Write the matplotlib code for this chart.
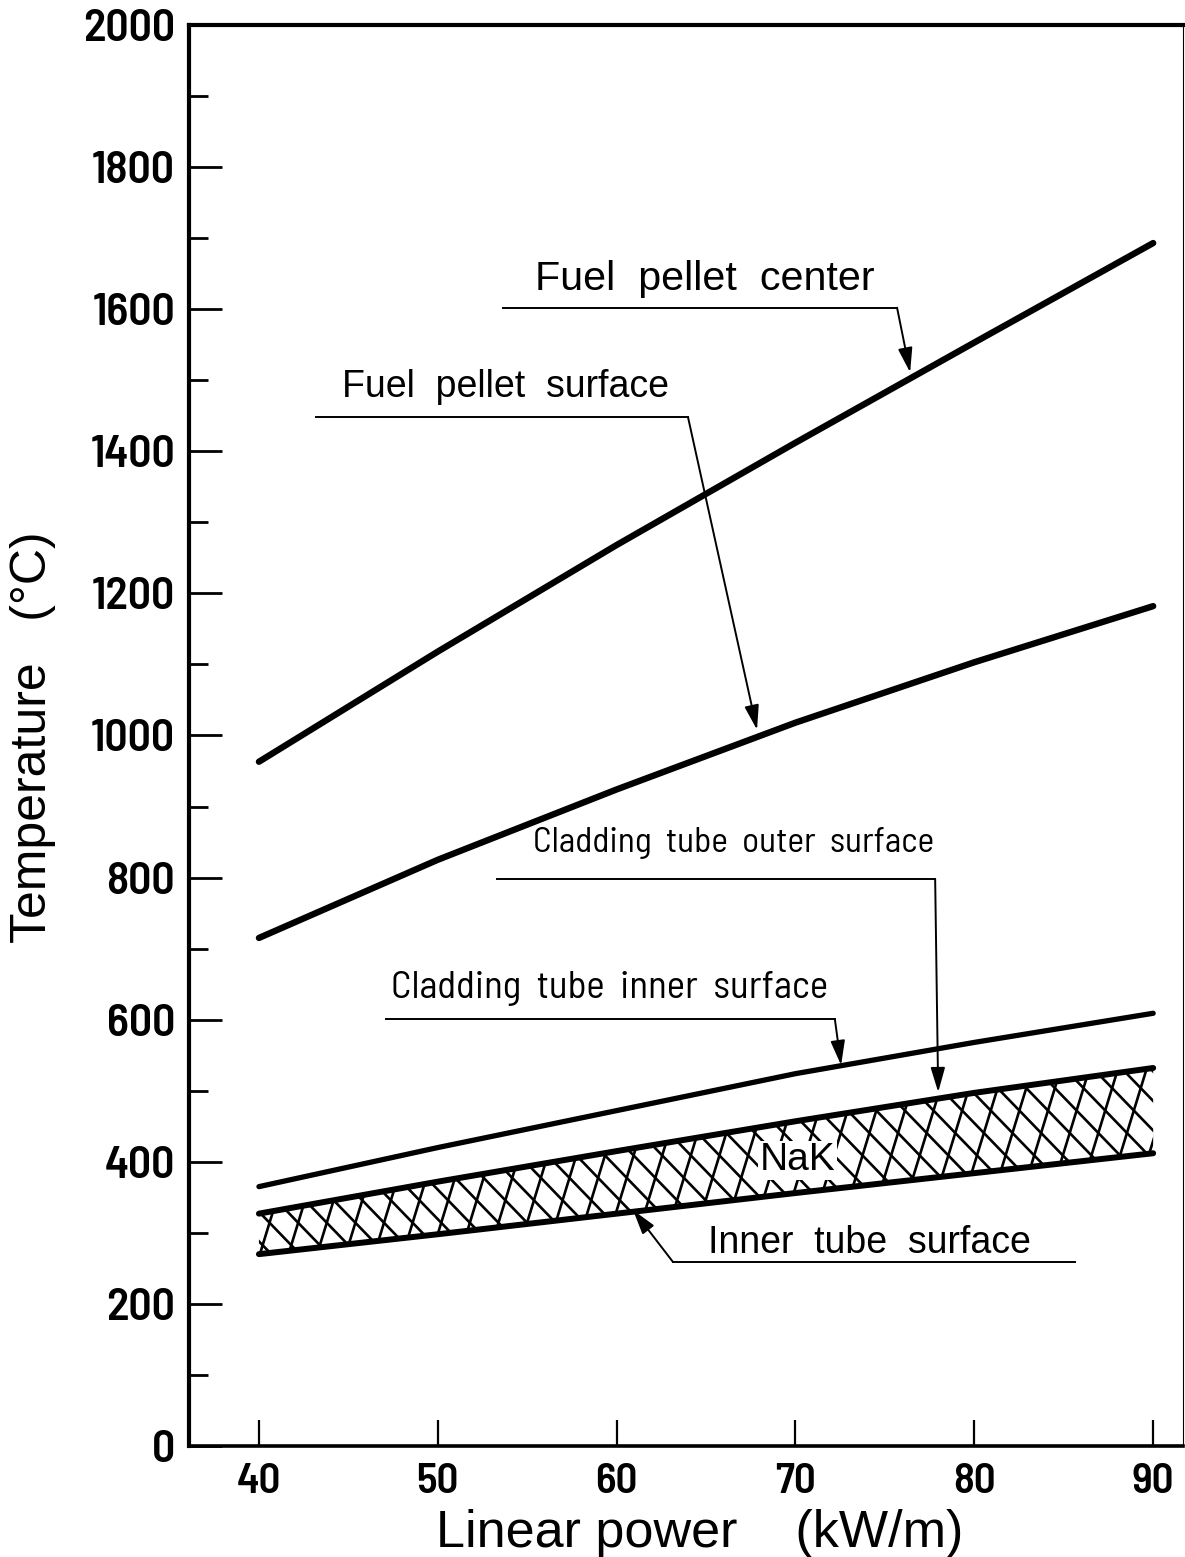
import matplotlib
matplotlib.use("Agg")
import matplotlib.pyplot as plt
from matplotlib.patches import Polygon
from matplotlib.ticker import MultipleLocator
import numpy as np

# Temperatures along the fuel pin vs linear power
power = [40, 50, 60, 70, 80, 90]
fuel_center = [963, 1118, 1268, 1412, 1553, 1693]
fuel_surface = [715, 825, 924, 1018, 1103, 1182]
clad_inner = [365, 420, 472, 524, 568, 609]
clad_outer = [327, 372, 415, 457, 497, 532]
inner_tube = [270, 298, 327, 356, 384, 412]

x_ticks = [40, 50, 60, 70, 80, 90]
y_ticks = list(range(0, 2001, 200))

TICKS = ['Barlow Semi Condensed', 'Liberation Sans', 'DejaVu Sans']
NARROW = ['Barlow Semi Condensed', 'Liberation Sans', 'DejaVu Sans']
REGULAR = ['Liberation Sans', 'DejaVu Sans']

fig = plt.figure(figsize=(11.85, 15.57), dpi=100)
ax = fig.add_axes([0.1595, 0.0713, 0.839, 0.9127])

# main curves
ax.plot(power, fuel_center, color='black', lw=4.6, solid_capstyle='round', zorder=4)
ax.plot(power, fuel_surface, color='black', lw=4.6, solid_capstyle='round', zorder=4)
ax.plot(power, clad_inner, color='black', lw=3.8, solid_capstyle='round', zorder=4)
ax.plot(power, clad_outer, color='black', lw=4.3, solid_capstyle='round', zorder=4)
ax.plot(power, inner_tube, color='black', lw=4.3, solid_capstyle='round', zorder=4)

# NaK gap: cross hatching clipped to the band
band = Polygon(list(zip(power, clad_outer)) + list(zip(power[::-1], inner_tube[::-1])),
               closed=True, facecolor='none', edgecolor='none')
ax.add_patch(band)
for x0 in np.arange(20, 96, 1.6):
    steep, = ax.plot([x0, x0 + 400 / 82.0], [200, 600], color='black', lw=1.9, zorder=2)
    steep.set_clip_path(band)
    back, = ax.plot([x0, x0 + 400 / 26.0], [600, 200], color='black', lw=1.9, zorder=2)
    back.set_clip_path(band)

ax.text(70.1, 402, 'NaK', ha='center', va='center', fontsize=28, family=REGULAR,
        bbox=dict(facecolor='white', edgecolor='none', pad=1), zorder=3)

# labels with leader lines
arrow = dict(arrowstyle='-|>,head_length=0.75,head_width=0.22', mutation_scale=20,
             color='black', lw=1.4, shrinkA=0, shrinkB=0)


def leader(text, tx, ty, x0, x1, y, tip, size, family, corner='right'):
    ax.text(tx, ty, text, fontsize=size, family=family, va='baseline', ha='left')
    ax.plot([x0, x1], [y, y], color='black', lw=1.4)
    start = (x1, y) if corner == 'right' else (x0, y)
    ax.annotate('', xy=tip, xytext=start, arrowprops=arrow)


leader('Fuel  pellet  center', 55.44, 1627, 53.65, 75.68, 1602, (76.41, 1511), 29.7, REGULAR)
leader('Fuel  pellet  surface', 44.64, 1476, 43.19, 63.99, 1448, (67.85, 1008), 27, REGULAR)
leader('Cladding  tube  outer  surface', 55.32, 836, 53.31, 77.81, 798, (77.98, 498), 25.5, NARROW)
leader('Cladding  tube  inner  surface', 47.4, 630, 47.1, 72.2, 601, (72.55, 536), 28, NARROW)
leader('Inner  tube  surface', 65.11, 271, 63.15, 85.64, 259, (60.92, 332), 27, REGULAR, corner='left')

ax.set_xlim(36.09, 91.68)
ax.set_ylim(0, 2000)
ax.set_xticks(x_ticks)
ax.set_yticks(y_ticks)
ax.yaxis.set_minor_locator(MultipleLocator(100))
ax.tick_params(axis='y', which='major', direction='in', length=24, width=2, pad=10)
ax.tick_params(axis='y', which='minor', direction='in', length=14, width=2)
ax.tick_params(axis='x', which='major', direction='in', length=19, width=1.6, pad=12)
for lab in ax.get_yticklabels():
    lab.set_family(TICKS)
    lab.set_fontweight(600)
    lab.set_fontsize(33)
for lab in ax.get_xticklabels():
    lab.set_family(TICKS)
    lab.set_fontweight(600)
    lab.set_fontsize(31)

ax.spines['left'].set_linewidth(3)
ax.spines['bottom'].set_linewidth(2.6)
ax.spines['top'].set_linewidth(3)
ax.spines['right'].set_linewidth(0.8)

fig.text(33 / 1185, 1 - 737 / 1557, 'Temperature   (°C)', rotation=90, ha='center', va='center',
         fontsize=36, family=REGULAR)
fig.text(700 / 1185, 1 - 1547 / 1557, 'Linear power    (kW/m)', ha='center', va='baseline',
         fontsize=37.5, family=REGULAR)

fig.savefig('out.png', dpi=100, facecolor='white')
